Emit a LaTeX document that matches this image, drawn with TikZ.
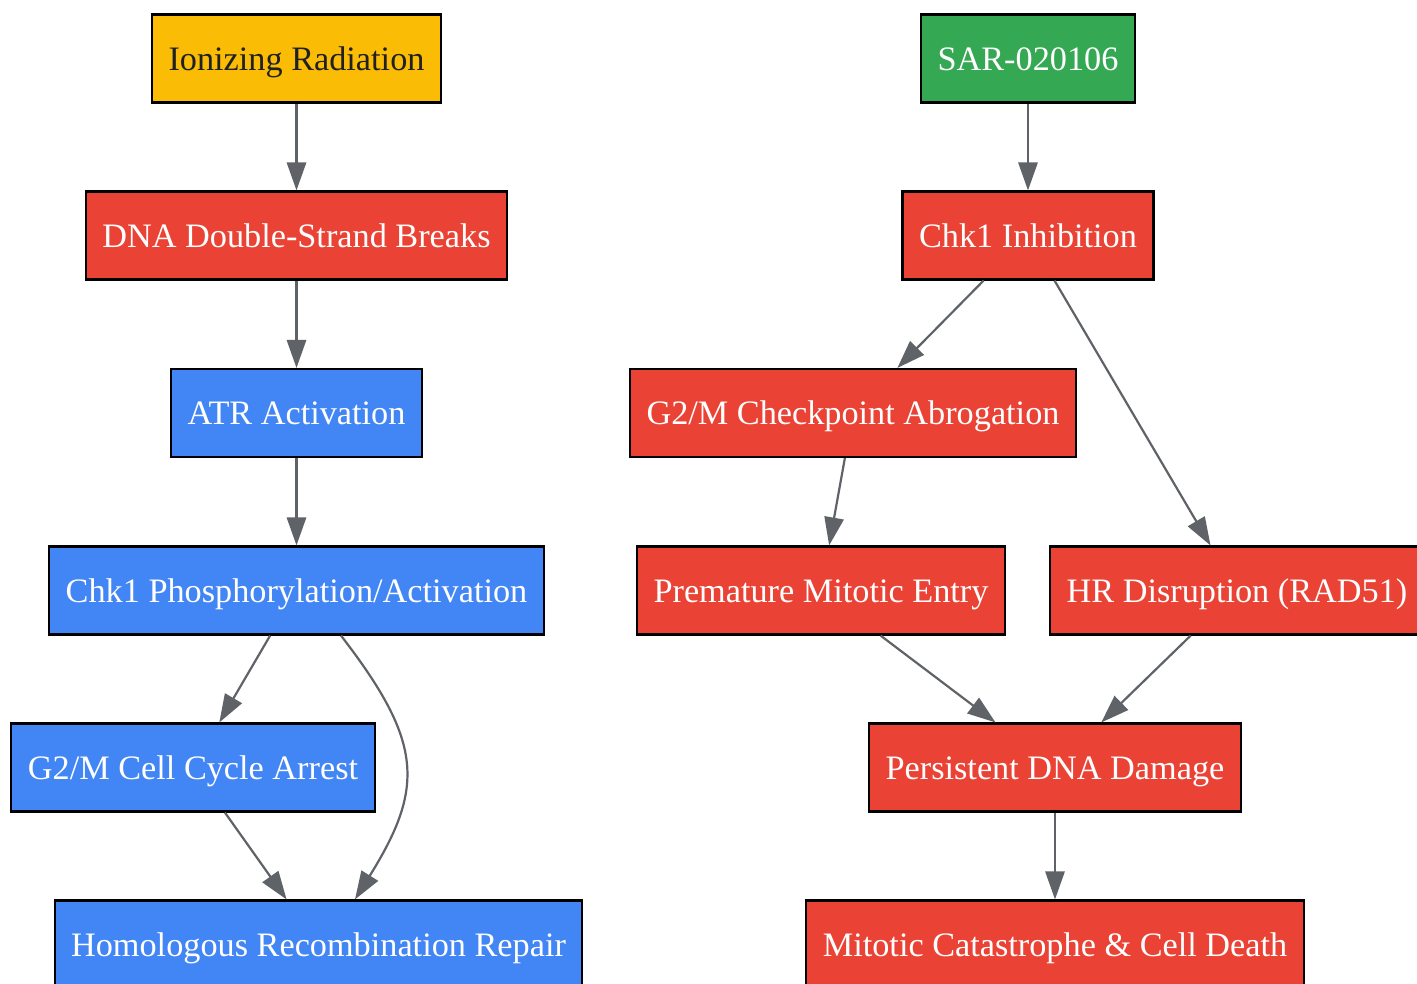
\documentclass[tikz,border=0pt]{standalone}
\usepackage{fontspec}
\setmainfont{Liberation Serif}
\usepackage{xcolor}
\usetikzlibrary{arrows.meta}

\definecolor{irYellow}{HTML}{FBBC05}
\definecolor{sarGreen}{HTML}{34A853}
\definecolor{dmgRed}{HTML}{EA4335}
\definecolor{repBlue}{HTML}{4285F4}
\definecolor{edgeGray}{HTML}{5F6368}
\definecolor{textDark}{HTML}{202124}

\begin{document}
\begin{tikzpicture}[x=0.02cm, y=-0.02cm,
  box/.style={draw=black, line width=1.2pt, minimum height=1.76cm, inner xsep=0.33cm,
    text height=18pt, text depth=4.5pt,
    font=\fontsize{19.5}{23}\selectfont, text=white},
  redbox/.style={box, fill=dmgRed},
  bluebox/.style={box, fill=repBlue},
  link/.style={draw=edgeGray, line width=1.25pt, -{Triangle[length=16pt,width=11pt]}}]
\useasboundingbox (0,0) rectangle (1417,984);
\clip (0,0) rectangle (1417,984);

% radiation side
\node[box, fill=irYellow, text=textDark] (ir) at (296.5,58.5) {Ionizing Radiation};
\node[redbox] (dsb) at (296.5,235.5) {DNA Double-Strand Breaks};
\node[bluebox] (atr) at (296.5,413) {ATR Activation};
\node[bluebox] (chkp) at (296.5,590.5) {Chk1 Phosphorylation/Activation};
\node[bluebox] (arrest) at (193,767.5) {G2/M Cell Cycle Arrest};
\node[bluebox] (hrr) at (318.5,944.5) {Homologous Recombination Repair};

% drug side
\node[box, fill=sarGreen] (sar) at (1028,58.5) {SAR-020106};
\node[redbox] (inhib) at (1028,235.5) {Chk1 Inhibition};
\node[redbox] (abrog) at (853,413) {G2/M Checkpoint Abrogation};
\node[redbox] (mitentry) at (821,590.5) {Premature Mitotic Entry};
\node[redbox] (hrdis) at (1237,590.5) {HR Disruption (RAD51)};
\node[redbox] (persist) at (1055,767.5) {Persistent DNA Damage};
\node[redbox] (catas) at (1055,944.5) {Mitotic Catastrophe \& Cell Death};

\draw[link] (ir) -- (dsb);
\draw[link] (dsb) -- (atr);
\draw[link] (atr) -- (chkp);
\draw[link] (chkp) -- (arrest);
\draw[link] (arrest) -- (hrr);
\draw[link] ([xshift=0.89cm]chkp.south) .. controls (423,742) and (425,787) .. ([xshift=0.73cm]hrr.north);

\draw[link] (sar) -- (inhib);
\draw[link] (inhib) -- (abrog);
\draw[link] (inhib) -- (hrdis);
\draw[link] (abrog) -- (mitentry);
\draw[link] (mitentry) -- (persist);
\draw[link] (hrdis) -- (persist);
\draw[link] (persist) -- (catas);
\end{tikzpicture}
\end{document}
